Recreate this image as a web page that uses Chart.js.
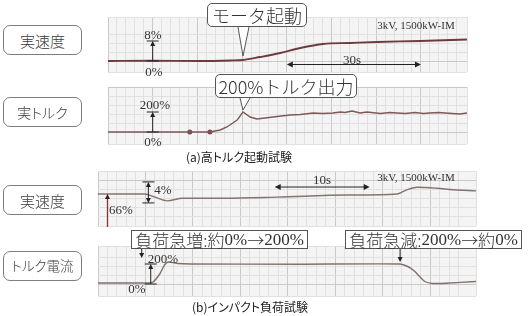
<!DOCTYPE html>
<html><head><meta charset="utf-8">
<script src="https://cdn.jsdelivr.net/npm/chart.js@4/dist/chart.umd.min.js"></script>
<style>
html,body{margin:0;padding:0;background:#fff;}
#page{position:relative;width:529px;height:316px;overflow:hidden;font-family:"Noto Sans CJK JP","Noto Sans",sans-serif;color:#333;}
canvas{position:absolute;left:0;top:0;}
.lbl{position:absolute;box-sizing:border-box;width:79px;height:30px;border:1px solid #7d7d7d;border-radius:7px;display:flex;align-items:center;justify-content:center;font-size:14px;color:#3a3a3a;background:#fff;font-feature-settings:"palt";line-height:1;font-weight:300;}
.call{position:absolute;box-sizing:border-box;background:#fff;border:1px solid #555;display:flex;align-items:center;justify-content:center;color:#333;white-space:nowrap;line-height:1;font-weight:300;}
.serif{font-family:"Liberation Serif","DejaVu Serif",serif;}
.t{position:absolute;white-space:nowrap;line-height:1;transform:translate(-50%,-50%);color:#333;}
.cap{position:absolute;white-space:nowrap;line-height:1;transform:translate(-50%,-50%);font-size:12px;color:#222;font-feature-settings:"palt";}
.m{font-family:"Liberation Serif",serif;font-weight:400;}
</style></head>
<body>
<div id="page">
<canvas id="cA1" width="529" height="316"></canvas>
<canvas id="cA2" width="529" height="316"></canvas>
<canvas id="cB1" width="529" height="316"></canvas>
<canvas id="cB2" width="529" height="316"></canvas>

<div class="lbl" style="left:3px;top:25px;font-size:15px;">実速度</div>
<div class="lbl" style="left:3px;top:97px;">実トルク</div>
<div class="lbl" style="left:3px;top:185px;font-size:15px;">実速度</div>
<div class="lbl" style="left:3px;top:251px;font-size:13.5px;">トルク電流</div>

<div class="call" style="left:207px;top:3px;width:100px;height:24px;border-radius:5px;font-size:18px;">モータ起動</div>
<div class="call" style="left:215px;top:74px;width:142px;height:24px;border-radius:5px;font-size:18px;">200%トルク出力</div>
<div class="call" style="left:131px;top:230px;width:177px;height:19px;font-size:17px;">負荷急増:約<span class="m">0%</span>→<span class="m">200%</span></div>
<div class="call" style="left:345px;top:230px;width:177px;height:19px;font-size:17px;">負荷急減:<span class="m">200%</span>→約<span class="m">0%</span></div>

<div class="t serif" style="left:153px;top:34px;font-size:13px;">8%</div>
<div class="t serif" style="left:154px;top:71px;font-size:13px;">0%</div>
<div class="t serif" style="left:155px;top:104px;font-size:13px;">200%</div>
<div class="t serif" style="left:153px;top:141px;font-size:13px;">0%</div>
<div class="t serif" style="left:352px;top:59px;font-size:13px;">30s</div>
<div class="t serif" style="left:416px;top:25px;font-size:11px;">3kV, 1500kW-IM</div>

<div class="t serif" style="left:322px;top:179px;font-size:13px;">10s</div>
<div class="t serif" style="left:416px;top:177px;font-size:11px;">3kV, 1500kW-IM</div>
<div class="t serif" style="left:163px;top:189px;font-size:13px;">4%</div>
<div class="t serif" style="left:121px;top:209px;font-size:13px;">66%</div>
<div class="t serif" style="left:163px;top:258px;font-size:13px;">200%</div>
<div class="t serif" style="left:137px;top:288px;font-size:13px;">0%</div>

<div class="cap" style="left:239px;top:157px;">(a)高トルク起動試験</div>
<div class="cap" style="left:250px;top:307px;">(b)インパクト負荷試験</div>
</div>

<script>
// ---- data (time in s, values in %) ----
const speedA_t  = [0, 9.4, 20.6, 27.3, 30.2, 34.0, 38.5, 43.0, 48.1, 54.1, 60.2, 69.8, 80.3];
const speedA_v  = [0, 0.1, 0, 0.2, 0.4, 1.6, 3.2, 5.2, 6.8, 7.2, 7.6, 8.0, 8.6];

const torqueA_t = [0, 18.3, 22.8, 25.1, 26.6, 28.9, 30.2, 31.8, 33.3, 35.1, 36.9, 40.7, 43.0, 45.9, 48.0, 50.3, 52.0, 53.0, 54.6, 56.4, 57.9, 60.9, 63.0, 64.7, 66.5, 68.7, 70.5, 72.0, 74.0, 75.4, 77.0, 78.7, 80.3];
const torqueA_v = [0, 0, 0, 20, 50, 120, 200, 150, 130, 140, 150, 170, 175, 190, 185, 190, 200, 195, 210, 190, 200, 185, 195, 190, 185, 195, 185, 190, 195, 190, 185, 180, 190];
const torqueA_dots_t = [18.3, 22.8];
const torqueA_dots_v = [0, 0];

const speedB_t  = [0, 2.3, 4.9, 6.0, 7.3, 8.9, 13.2, 18.8, 26.2, 31.5, 32.5, 33.6, 35.7, 37.4, 39.8];
const speedB_v  = [66.0, 66.0, 66.0, 65.4, 64.7, 65.2, 65.2, 65.4, 65.8, 66.0, 66.8, 67.3, 67.1, 66.8, 66.6];

const currentB_t = [0, 5.3, 5.8, 6.5, 7.0, 7.4, 8.4, 9.7, 21.3, 31.8, 32.6, 33.3, 33.9, 34.4, 35.2, 36.6, 39.8];
const currentB_v = [10, 10, 20, 100, 190, 220, 205, 200, 198, 200, 175, 130, 70, 25, 5, 8, 25];

// ---- helpers ----
const W = 529, H = 316;
const BG = '#f5f4f4', MIN = '#e3e0e0', MAJ = '#cdc8c8';
const pts = (ts, vs) => ts.map((t, i) => ({x: t, y: vs[i]}));
const isMajor = (v, m) => Math.abs(v / m - Math.round(v / m)) < 1e-4;

function head(ctx, x, y, dir, s) {
  const w = s * 0.5;
  ctx.beginPath();
  if (dir === 'up')    { ctx.moveTo(x, y); ctx.lineTo(x - w, y + s); ctx.lineTo(x + w, y + s); }
  if (dir === 'down')  { ctx.moveTo(x, y); ctx.lineTo(x - w, y - s); ctx.lineTo(x + w, y - s); }
  if (dir === 'left')  { ctx.moveTo(x, y); ctx.lineTo(x + s, y - w); ctx.lineTo(x + s, y + w); }
  if (dir === 'right') { ctx.moveTo(x, y); ctx.lineTo(x - s, y - w); ctx.lineTo(x - s, y + w); }
  ctx.closePath(); ctx.fill();
}
function line(ctx, x0, y0, x1, y1) { ctx.beginPath(); ctx.moveTo(x0, y0); ctx.lineTo(x1, y1); ctx.stroke(); }
function P(ch, t, v) { return [ch.scales.x.getPixelForValue(t), ch.scales.y.getPixelForValue(v)]; }

function levelMarker(ch, t, v0, v1) {
  const c = ch.ctx; const [x, y0] = P(ch, t, v0); const y1 = P(ch, t, v1)[1];
  c.save(); c.strokeStyle = '#222'; c.fillStyle = '#222'; c.lineWidth = 1;
  line(c, x, y0, x, y1 + 4);
  head(c, x, y1, 'up', 5);
  line(c, x - 6, y1, x + 6, y1);
  line(c, x - 6, y0, x + 6, y0);
  c.restore();
}
function hDouble(ch, t0, t1, v) {
  const c = ch.ctx; const [x0, y] = P(ch, t0, v); const x1 = P(ch, t1, v)[0];
  c.save(); c.strokeStyle = '#222'; c.fillStyle = '#222'; c.lineWidth = 1;
  line(c, x0 + 4, y, x1 - 4, y);
  head(c, x0, y, 'left', 6); head(c, x1, y, 'right', 6);
  c.restore();
}
function vPointer(ch, xl, xr, ytop, t, v, gap) {
  const c = ch.ctx; const [x, y] = P(ch, t, v);
  c.save(); c.fillStyle = '#fff'; c.strokeStyle = '#555'; c.lineWidth = 1;
  c.beginPath(); c.moveTo(xl, ytop); c.lineTo(x, y - gap); c.lineTo(xr, ytop); c.fill(); c.stroke();
  c.restore();
}

function makeChart(id, area, xr, yr, xstep, xmaj, ystep, ymaj, datasets, draw) {
  return new Chart(document.getElementById(id), {
    type: 'line',
    data: { datasets },
    options: {
      responsive: false, animation: false, events: [],
      layout: { padding: { left: area[0], top: area[1], right: W - area[2], bottom: H - area[3] } },
      plugins: { legend: { display: false }, tooltip: { enabled: false } },
      elements: { point: { radius: 0 } },
      scales: {
        x: { type: 'linear', min: xr[0], max: xr[1],
             ticks: { display: false, stepSize: xstep },
             grid: { drawTicks: false, color: c => isMajor(c.tick.value, xmaj) ? MAJ : MIN },
             border: { display: false } },
        y: { type: 'linear', min: yr[0], max: yr[1],
             ticks: { display: false, stepSize: ystep },
             grid: { drawTicks: false, color: c => isMajor(c.tick.value, ymaj) ? MAJ : MIN },
             border: { display: false } }
      }
    },
    plugins: [{
      id: 'panel',
      beforeDraw(ch) {
        const a = ch.chartArea, c = ch.ctx;
        c.save(); c.fillStyle = BG; c.fillRect(a.left, a.top, a.right - a.left, a.bottom - a.top); c.restore();
      },
      afterDatasetsDraw(ch) { draw(ch); }
    }]
  });
}

// (a) speed
makeChart('cA1', [108, 17, 467, 72], [0, 80.31], [-4.4, 17.6], 2, 10, 3.6, 18,
  [{ data: pts(speedA_t, speedA_v), borderColor: '#6b3b40', borderWidth: 1.8, tension: 0.3, cubicInterpolationMode: 'monotone' }],
  ch => {
    levelMarker(ch, 10, 0, 8);
    hDouble(ch, 40, 70, -1.4);
    vPointer(ch, 238, 249, 27, 30.2, 0.4, 4);
  });

// (a) torque
makeChart('cA2', [108, 87, 467, 144], [0, 80.31], [-120, 450], 2, 10, 90, 450,
  [{ data: pts(torqueA_t, torqueA_v), borderColor: '#7b5a5a', borderWidth: 1.4, tension: 0 },
   { data: pts(torqueA_dots_t, torqueA_dots_v), showLine: false, pointRadius: 2.5, pointBackgroundColor: '#7a4848', pointBorderWidth: 0 }],
  ch => {
    levelMarker(ch, 10, 0, 200);
    vPointer(ch, 240, 250, 98, 30.2, 200, 2);
  });

// (b) speed
makeChart('cB1', [98, 171, 476, 226], [0, 39.79], [59.905, 70.381], 1, 5, 9 / 5.25, 45 / 5.25,
  [{ data: pts(speedB_t, speedB_v), borderColor: '#84746e', borderWidth: 1.4, tension: 0.3, cubicInterpolationMode: 'monotone' }],
  ch => {
    const c = ch.ctx;
    const [x, y] = P(ch, 1.0, 66);
    c.save(); c.strokeStyle = '#8a2f33'; c.fillStyle = '#3a1a1a'; c.lineWidth = 1.3;
    line(c, x, ch.chartArea.bottom + 1, x, y + 4);
    head(c, x, y, 'up', 5);
    c.restore();
    const [x4, yt] = P(ch, 5.3, 68.3); const yb = P(ch, 5.3, 64.3)[1];
    c.save(); c.strokeStyle = '#222'; c.fillStyle = '#222'; c.lineWidth = 1;
    line(c, x4 - 6, yt, x4 + 6, yt); line(c, x4 - 6, yb, x4 + 6, yb);
    line(c, x4, yt + 4, x4, yb - 4);
    head(c, x4, yt, 'up', 5); head(c, x4, yb, 'down', 5);
    c.restore();
    hDouble(ch, 18.6, 28.6, 67.33);
  });

// (b) torque current
makeChart('cB2', [98, 246, 476, 296], [0, 39.79], [-120, 380], 1, 5, 90, 450,
  [{ data: pts(currentB_t, currentB_v), borderColor: '#7f706b', borderWidth: 1.4, tension: 0.2 }],
  ch => {
    levelMarker(ch, 5.55, 0, 200);
    const c = ch.ctx;
    c.save(); c.strokeStyle = '#222'; c.fillStyle = '#222'; c.lineWidth = 1;
    const xl = P(ch, 4.6, 0)[0];
    line(c, xl, 249, xl, 254); head(c, xl, 258, 'down', 5);
    const [xr, yr] = P(ch, 31.8, 200);
    line(c, xr, 249, xr, yr - 6); head(c, xr, yr - 2, 'down', 5);
    c.restore();
  });
</script>
</body></html>
